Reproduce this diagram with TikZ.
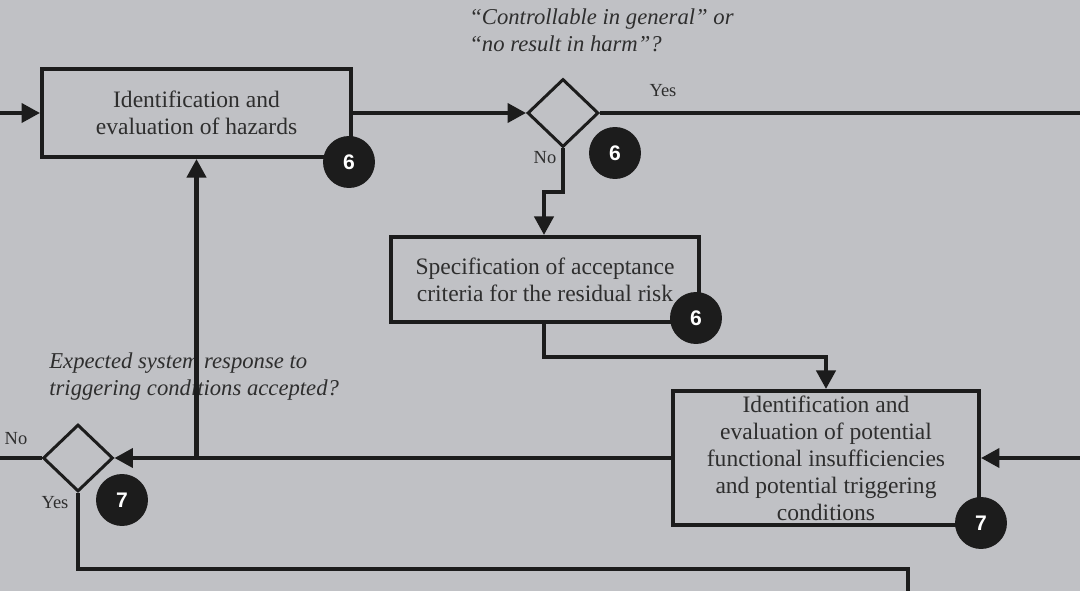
\documentclass[tikz,border=0pt]{standalone}
\usepackage{fontspec}
\setmainfont{Liberation Serif}
\newfontfamily\badgefont{Liberation Sans}
\usepackage{tikz}
\usetikzlibrary{shapes.geometric,arrows.meta,positioning}

\definecolor{bg}{HTML}{C0C1C5}
\definecolor{ink}{HTML}{1C1C1C}
\definecolor{txt}{HTML}{2E2E2E}

\tikzset{
  box/.style={draw=ink,line width=2.3pt,text=txt,align=center,inner sep=0pt,
    font=\fontsize{13.4}{15.4}\selectfont},
  decision/.style={draw=ink,diamond,line width=1.7pt,inner sep=0pt,
    minimum width=1.42cm,minimum height=1.36cm},
  badge/.style={circle,fill=ink,text=white,minimum size=1.04cm,inner sep=0pt,
    font=\badgefont\bfseries\fontsize{12}{14}\selectfont},
  question/.style={anchor=west,align=left,inner sep=0pt,text=txt,
    font=\itshape\fontsize{12.9}{15.4}\selectfont},
  answer/.style={inner sep=0pt,text=txt,font=\fontsize{10.5}{12}\selectfont},
  flow/.style={draw=ink,line width=2.3pt},
  arr/.style={flow,-{Triangle[length=0.37cm,width=0.38cm]}}
}

\begin{document}
\begin{tikzpicture}[x=0.02cm,y=-0.02cm]
    \fill[bg] (0,0) rectangle (1080,591);
    \useasboundingbox (0,0) rectangle (1080,591);

    % boxes
    \node (hazards) at (196.5,113) [box,minimum width=6.18cm,minimum height=1.76cm]
      {Identification and\\evaluation of hazards};
    \node (criteria) at (545,279.5) [box,minimum width=6.16cm,minimum height=1.7cm]
      {Specification of acceptance\\criteria for the residual risk};
    \node (insuff) at (826,458) [box,minimum width=6.12cm,minimum height=2.68cm]
      {Identification and\\evaluation of potential\\functional insufficiencies\\and potential triggering\\conditions};

    % decisions
    \node (harm) at (563,113) [decision] {};
    \node (accept) at (78,458) [decision,minimum width=1.4cm,minimum height=1.34cm] {};

    \node (harmq) at (469,30) [question]
      {“Controllable in general” or\\“no result in harm”?};
    \node (acceptq) at (49,377) [question]
      {Expected system response to\\triggering conditions accepted?};

    % free ends and bends
    \coordinate (in1) at (0,113);
    \coordinate (out1) at (1080,113);
    \coordinate (in3) at (1080,458);
    \coordinate (out2) at (0,458);
    \coordinate (out3) at (908,595);
    \coordinate (bendno) at (544,192);
    \coordinate (bendcrit) at (826,357);
    \coordinate (bendyes) at (908,569);
    \coordinate (back) at (hazards.south |- accept.east);

    \draw[arr] (in1) -- (hazards.west);
    \draw[arr] (hazards.east) -- (harm.west);
    \draw[flow] (harm.east) -- (out1);
    \draw[arr] (harm.south) |- (bendno) -- (bendno |- criteria.north);
    \draw[arr] (criteria.south -| bendno) |- (bendcrit) -- (insuff.north);
    \draw[arr] (in3) -- (insuff.east);
    \draw[arr] (insuff.west) -- (accept.east);
    \draw[arr] (back) -- (hazards.south);
    \draw[flow] (accept.west) -- (out2);
    \draw[flow] (accept.south) |- (bendyes) -- (out3);

    % answers
    \node (harmyes) at (663,91) [answer] {Yes};
    \node (harmno) at (545,158) [answer] {No};
    \node (acceptno) at (16,439) [answer] {No};
    \node (acceptyes) at (55,503) [answer] {Yes};

    % clause badges
    \node (b1) at (349,162) [badge] {6};
    \node (b2) at (615,153) [badge] {6};
    \node (b3) at (696,318) [badge] {6};
    \node (b4) at (981,523) [badge] {7};
    \node (b5) at (122,500) [badge] {7};

\end{tikzpicture}
\end{document}
